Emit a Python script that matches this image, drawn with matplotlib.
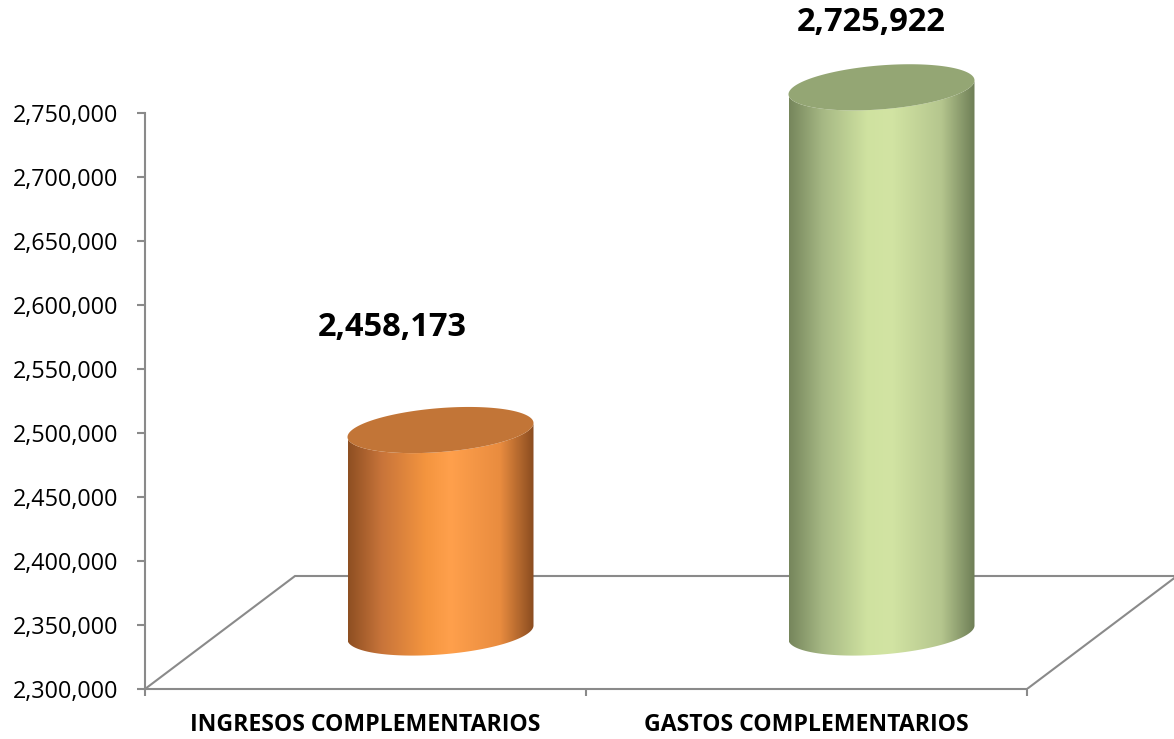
import numpy as np
import matplotlib
matplotlib.use('Agg')
import matplotlib.pyplot as plt
from matplotlib.patches import Polygon
from matplotlib.colors import LinearSegmentedColormap
from matplotlib.ticker import FuncFormatter

# data
categories = ['INGRESOS COMPLEMENTARIOS', 'GASTOS COMPLEMENTARIOS']
values = [2458173, 2725922]
y_ticks = list(range(2300000, 2750001, 50000))

# style
body_colors = [['#8e4f22', '#c8743a', '#f4953f', '#ffa04c', '#e98c3f', '#8a4c20'],
               ['#76865c', '#a6b884', '#cfe2a0', '#d2e4a3', '#b5c68e', '#6e7e56']]
top_colors = ['#c27537', '#94a674']
label_offsets = [(-48, 103), (-10, 65)]   # pixels from the top centre of each cylinder
line_col = '#8a8a8a'

plt.rcParams['font.family'] = ['Open Sans', 'DejaVu Sans']

W, H = 1174, 739
fig = plt.figure(figsize=(W / 100, H / 100), dpi=100)

# front plane: x 145..1027 px for two categories, y 689..113 px for 2.30M..2.75M
px_x = (1027 - 145) / 2.0
px_y = (689 - 113) / float(y_ticks[-1] - y_ticks[0])
ymin = y_ticks[0]
ax = fig.add_axes([145 / W, (H - 689) / H, 1 - 145 / W, 689 / H])

# depth of the floor
dx = 150 / px_x
dy = 113 / px_y

# floor outline
ax.plot([0, dx, 2 + dx, 2], [ymin, ymin + dy, ymin + dy, ymin],
        color=line_col, lw=1.5, zorder=1, solid_joinstyle='miter')

a = 93 / px_x      # half width of cylinder
b = 22 / px_y      # half height of ellipse
kk = 7 / px_y      # tilt of ellipse
t_front = np.linspace(np.pi, 2 * np.pi, 120)
t_all = np.linspace(0, 2 * np.pi, 240)

for i, v in enumerate(values):
    cx = i + 0.5 + dx / 2
    base = ymin + dy / 2
    top = v + dy / 2
    xs = cx + a * np.cos(t_front)
    top_y = top + b * np.sin(t_front) + kk * np.cos(t_front)
    bot_y = base + b * np.sin(t_front) + kk * np.cos(t_front)
    pts = np.vstack([np.column_stack([xs, top_y]),
                     np.column_stack([xs[::-1], bot_y[::-1]])])
    body = Polygon(pts, closed=True, facecolor='none', edgecolor='none', zorder=3)
    ax.add_patch(body)
    cmap = LinearSegmentedColormap.from_list('c%d' % i, list(zip([0, 0.18, 0.42, 0.55, 0.82, 1.0], body_colors[i])))
    grad = np.linspace(0, 1, 256).reshape(1, -1)
    im = ax.imshow(grad, cmap=cmap, aspect='auto', zorder=3,
                   extent=[cx - a, cx + a, base - b - kk, top + b + kk], interpolation='bilinear')
    im.set_clip_path(body)
    ell = np.column_stack([cx + a * np.cos(t_all),
                           top + b * np.sin(t_all) + kk * np.cos(t_all)])
    ax.add_patch(Polygon(ell, closed=True, facecolor=top_colors[i], edgecolor='none', zorder=4))
    ax.annotate('{:,}'.format(v), xy=(cx, top), xytext=label_offsets[i], textcoords='offset pixels',
                ha='center', va='center', fontsize=23.5, fontweight='bold', color='black')

ax.set_xlim(0, (W - 145) / px_x)
ax.set_ylim(ymin, ymin + 689 / px_y)

for s in ['top', 'right']:
    ax.spines[s].set_visible(False)
ax.spines['left'].set_bounds(y_ticks[0], y_ticks[-1])
ax.spines['bottom'].set_bounds(0, 2)
for s in ['left', 'bottom']:
    ax.spines[s].set_color(line_col)
    ax.spines[s].set_linewidth(1.5)

ax.set_yticks(y_ticks)
ax.yaxis.set_major_formatter(FuncFormatter(lambda y, p: '{:,.0f}'.format(y)))
ax.tick_params(axis='y', direction='out', length=6, width=1.5, color=line_col,
               labelsize=16.8, pad=13, labelcolor='black')
ax.set_xticks([0, 1, 2])
ax.set_xticklabels([])
ax.tick_params(axis='x', which='major', direction='out', length=5, width=1.5, color=line_col)
ax.set_xticks([0.5, 1.5], minor=True)
ax.set_xticklabels(categories, minor=True, fontsize=16.6, fontweight='bold')
ax.tick_params(axis='x', which='minor', length=0, pad=17)
ax.patch.set_alpha(0)

fig.savefig('out.png', dpi=100)
